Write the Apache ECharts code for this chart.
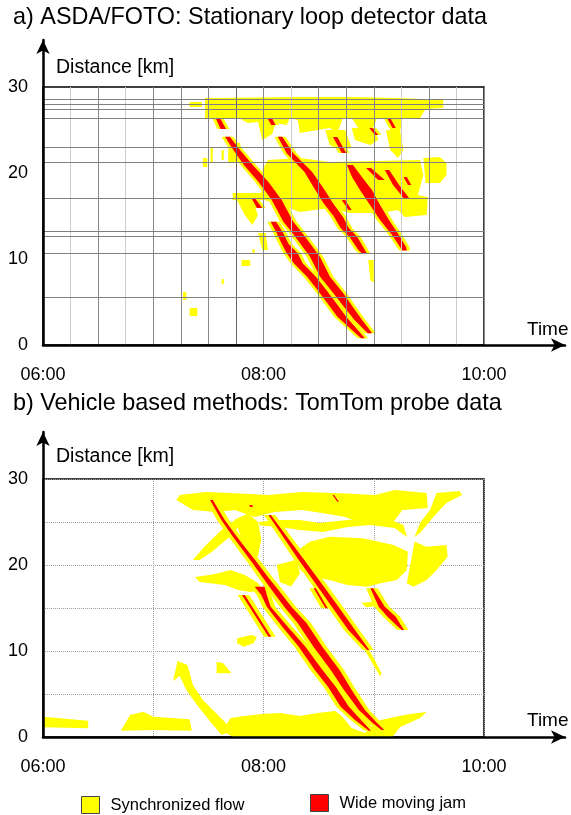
<!DOCTYPE html>
<html>
<head>
<meta charset="utf-8">
<title>Synchronized flow and wide moving jams</title>
<script src="https://cdn.jsdelivr.net/npm/echarts@6/dist/echarts.min.js"></script>
<style>
    html, body { margin: 0; padding: 0; background: #fff; }
    #chart { width: 571px; height: 815px; }
</style>
</head>
<body>
<div id="chart"></div>
<script>
// ---- data: time in hours (6 = 06:00), distance in km ----
var timeLabelHours = [6, 8, 10];
var kmLabels = [0, 10, 20, 30];

// loop detector positions (panel a)
var detectorKm = [28.57, 28.02, 27.4, 26.36, 22.99, 21.24, 17.06, 13.29, 12.71, 10.66, 5.55];

// wide moving jams, rows of [km, jam start, jam end]
var jamsA = [
    [[26.28, 7.57, 7.61], [25.12, 7.61, 7.66]],
    [[24.22, 7.650, 7.695], [22.67, 7.727, 7.787], [20.93, 7.822, 7.902], [18.99, 7.953, 8.043],
     [16.86, 8.075, 8.165], [14.34, 8.180, 8.270], [13.37, 8.241, 8.331], [11.83, 8.331, 8.421],
     [10.27, 8.422, 8.512], [7.94, 8.513, 8.603], [6.01, 8.634, 8.724], [4.45, 8.729, 8.809],
     [2.91, 8.825, 8.895], [1.36, 8.946, 8.986]],
    [[17.09, 7.89, 7.92], [15.93, 7.94, 7.99]],
    [[14.34, 8.065, 8.115], [12.98, 8.12, 8.18], [11.81, 8.165, 8.225], [10.66, 8.21, 8.31],
     [9.50, 8.275, 8.355], [7.94, 8.395, 8.475], [6.40, 8.49, 8.57], [4.85, 8.58, 8.66],
     [3.29, 8.67, 8.75], [2.13, 8.77, 8.83], [0.78, 8.885, 8.92]],
    [[26.28, 8.04, 8.08], [25.58, 8.07, 8.11]],
    [[24.22, 8.13, 8.17], [22.29, 8.21, 8.27], [20.15, 8.37, 8.44], [18.02, 8.47, 8.555],
     [16.48, 8.545, 8.63], [14.92, 8.64, 8.72], [13.57, 8.70, 8.775], [12.59, 8.78, 8.85],
     [11.05, 8.86, 8.92], [10.58, 8.90, 8.94]],
    [[24.19, 8.63, 8.67], [22.33, 8.71, 8.75]],
    [[20.93, 8.757, 8.812], [19.53, 8.803, 8.893], [18.02, 8.875, 8.984], [16.28, 8.966, 9.057],
     [14.53, 9.057, 9.138], [12.79, 9.166, 9.229], [11.40, 9.238, 9.293], [11.0, 9.26, 9.30]],
    [[20.58, 8.93, 8.975], [19.19, 9.04, 9.10]],
    [[20.35, 9.10, 9.14], [18.60, 9.175, 9.23], [17.09, 9.27, 9.32]],
    [[19.53, 9.27, 9.30], [18.60, 9.31, 9.34]],
    [[25.23, 8.96, 8.99], [24.42, 9.01, 9.04]],
    [[26.28, 9.125, 9.155], [25.23, 9.17, 9.20]],
    [[16.86, 8.71, 8.74], [15.70, 8.77, 8.80]]
];

// synchronized flow regions, outlines of [time, km]
var syncA = [
    [[7.47, 28.72], [8.33, 28.84], [8.79, 28.84], [9.24, 28.72], [9.63, 28.49], [9.63, 27.56], [9.47, 27.44],
     [9.42, 26.40], [9.26, 26.40], [9.24, 24.88], [9.15, 24.88], [9.13, 26.40], [9.03, 26.40], [8.99, 25.12],
     [8.86, 25.23], [8.80, 26.40], [8.72, 26.40], [8.67, 24.65], [8.60, 25.23], [8.33, 24.65], [8.31, 26.16],
     [8.24, 26.40], [8.21, 25.58], [8.11, 25.81], [8.08, 24.53], [7.99, 23.84], [7.95, 25.93], [7.86, 25.81],
     [7.79, 26.28], [7.62, 26.28], [7.47, 26.40]],
    [[7.33, 28.26], [7.44, 28.26], [7.44, 27.67], [7.33, 27.67]],
    [[7.45, 21.74], [7.49, 21.74], [7.49, 20.70], [7.45, 20.70]],
    [[7.68, 23.49], [7.79, 23.49], [7.79, 21.28], [7.68, 21.28]],
    [[7.52, 22.91], [7.54, 22.91], [7.54, 21.28], [7.52, 21.28]],
    [[7.62, 22.67], [7.64, 22.67], [7.64, 21.51], [7.62, 21.51]],
    [[8.04, 21.51], [8.33, 21.74], [8.60, 21.28], [9.42, 21.51], [9.45, 19.77], [9.40, 17.44], [9.49, 17.21],
     [9.48, 15.12], [9.28, 14.88], [9.22, 15.70], [9.06, 15.35], [8.79, 15.35], [8.60, 15.93], [8.33, 15.47],
     [8.15, 16.28], [8.01, 16.86], [7.72, 16.86], [7.72, 17.67], [7.97, 17.67], [8.04, 18.60], [7.99, 20.35]],
    [[9.45, 21.74], [9.60, 21.86], [9.66, 21.16], [9.66, 19.77], [9.60, 18.84], [9.47, 18.84]],
    [[8.56, 25.0], [8.74, 25.0], [8.80, 22.91], [8.69, 22.67], [8.60, 23.26]],
    [[9.11, 25.0], [9.24, 24.88], [9.27, 22.67], [9.22, 21.74], [9.15, 22.67]],
    [[8.80, 25.23], [9.01, 25.23], [9.04, 23.84], [8.97, 23.26], [8.83, 23.84]],
    [[7.76, 16.86], [7.90, 16.86], [7.95, 15.12], [7.90, 13.95], [7.83, 15.12]],
    [[7.95, 13.02], [8.02, 13.02], [8.04, 11.05], [7.99, 11.05]],
    [[7.90, 11.16], [7.92, 11.16], [7.92, 10.70], [7.90, 10.70]],
    [[7.80, 9.88], [7.88, 9.88], [7.88, 9.19], [7.80, 9.19]],
    [[7.62, 7.67], [7.64, 7.67], [7.64, 7.09], [7.62, 7.09]],
    [[7.27, 6.16], [7.30, 6.16], [7.30, 5.23], [7.27, 5.23]],
    [[7.33, 4.30], [7.40, 4.30], [7.40, 3.37], [7.33, 3.37]],
    [[8.95, 9.88], [9.00, 9.88], [9.00, 7.21], [8.97, 7.56]]
];

var jamsB = [
    [[27.56, 7.515, 7.54], [25.23, 7.618, 7.648], [23.26, 7.724, 7.76], [21.74, 7.812, 7.852],
     [20.23, 7.90, 7.945], [18.60, 7.99, 8.04], [17.09, 8.075, 8.135], [15.12, 8.19, 8.255],
     [13.26, 8.31, 8.39], [10.47, 8.455, 8.535], [7.79, 8.61, 8.69], [5.47, 8.73, 8.80],
     [3.14, 8.865, 8.92], [1.63, 8.99, 9.03], [0.81, 9.07, 9.095]],
    [[17.48, 7.92, 8.01], [16.5, 7.98, 8.03], [15.15, 8.03, 8.065], [12.83, 8.17, 8.22],
     [10.50, 8.32, 8.38], [7.79, 8.465, 8.535], [5.85, 8.585, 8.655], [3.52, 8.70, 8.775],
     [1.98, 8.83, 8.885], [0.73, 8.955, 8.975]],
    [[25.81, 8.045, 8.067], [23.29, 8.178, 8.212], [20.58, 8.32, 8.37], [17.87, 8.47, 8.525],
     [15.15, 8.62, 8.68], [12.44, 8.77, 8.83], [10.12, 8.94, 8.96]],
    [[16.51, 7.805, 7.83], [11.66, 8.045, 8.07]],
    [[17.29, 8.455, 8.475], [14.97, 8.563, 8.583]],
    [[17.29, 8.97, 8.995], [15.15, 9.045, 9.10], [13.99, 9.125, 9.20], [12.83, 9.22, 9.255], [12.44, 9.255, 9.275]],
    [[28.14, 8.625, 8.64], [27.36, 8.67, 8.685]],
    [[26.98, 7.87, 7.895], [26.74, 7.88, 7.905]]
];

var syncB = [
    [[6.0, 2.36], [6.41, 1.90], [6.41, 1.01], [6.0, 1.13]],
    [[6.71, 0.81], [6.79, 2.56], [6.91, 2.94], [7.00, 2.36], [7.33, 2.06], [7.35, 0.73], [7.00, 0.81], [6.71, 0.73]],
    [[7.18, 6.51], [7.22, 8.84], [7.31, 8.37], [7.36, 6.05], [7.45, 4.30], [7.56, 2.91], [7.65, 1.74], [7.71, 0.70],
     [7.62, 0.23], [7.52, 1.74], [7.39, 3.84], [7.30, 5.47], [7.24, 7.09]],
    [[7.63, 0.70], [7.70, 2.21], [7.83, 2.44], [7.99, 2.67], [8.15, 2.79], [8.33, 2.44], [8.49, 2.79], [8.65, 3.02],
     [8.71, 2.44], [8.80, 1.05], [8.92, 0.47], [9.06, 1.98], [9.19, 2.33], [9.33, 2.67], [9.48, 2.91], [9.42, 2.21],
     [9.24, 1.16], [9.17, 0], [7.72, 0]],
    [[7.38, 18.60], [7.56, 18.95], [7.70, 19.42], [7.83, 18.84], [7.95, 17.91], [7.99, 17.09], [7.88, 16.86],
     [7.77, 17.09], [7.65, 17.67], [7.42, 18.02]],
    [[7.36, 20.58], [7.47, 22.21], [7.62, 24.07], [7.74, 25.23], [7.79, 24.65], [7.68, 23.14], [7.53, 21.51], [7.42, 20.58]],
    [[7.74, 25.3], [7.86, 26.0], [7.95, 25.0], [7.98, 23.0], [7.95, 21.0], [7.88, 20.3], [7.83, 22.0]],
    [[7.21, 27.56], [7.24, 28.14], [7.48, 28.49], [7.70, 28.37], [8.04, 28.14], [8.35, 28.49], [8.65, 28.37],
     [9.01, 28.14], [9.19, 28.72], [9.48, 28.37], [9.49, 26.63], [9.26, 26.40], [9.17, 24.88], [8.98, 25.0],
     [8.89, 24.88], [8.74, 25.58], [8.53, 26.05], [8.35, 26.40], [8.10, 26.16], [7.92, 25.58], [7.74, 26.40],
     [7.57, 26.16], [7.36, 26.40]],
    [[9.57, 28.37], [9.78, 28.60], [9.80, 28.14], [9.66, 27.21], [9.54, 25.58], [9.42, 23.72], [9.37, 23.26],
     [9.42, 24.88], [9.51, 26.40]],
    [[7.95, 25.0], [8.15, 25.23], [8.33, 25.23], [8.51, 24.88], [8.76, 25.23], [8.97, 25.47], [9.15, 25.23],
     [9.27, 24.65], [9.30, 23.26], [9.19, 24.30], [8.97, 24.65], [8.76, 24.42], [8.54, 23.84], [8.33, 24.07],
     [8.15, 24.42], [7.97, 24.6]],
    [[8.29, 21.5], [8.42, 22.71], [8.60, 23.29], [8.90, 23.10], [9.18, 22.33], [9.31, 21.55], [9.30, 19.42],
     [9.21, 18.26], [9.06, 17.87], [8.94, 17.48], [8.76, 17.67], [8.60, 18.26], [8.45, 18.64], [8.33, 19.42]],
    [[9.37, 22.71], [9.48, 22.13], [9.66, 22.33], [9.67, 20.97], [9.57, 19.42], [9.48, 18.26], [9.36, 17.48], [9.30, 17.87]],
    [[8.12, 20.0], [8.30, 20.6], [8.33, 19.0], [8.25, 17.5], [8.15, 18.0]],
    [[8.89, 15.58], [9.10, 15.93], [9.10, 15.35], [8.93, 15.1]],
    [[8.92, 10.9], [9.01, 8.95], [9.07, 7.4], [9.06, 7.0], [8.97, 8.95], [8.91, 10.3]],
    [[7.76, 11.48], [7.89, 11.86], [7.94, 11.67], [7.91, 10.89], [7.82, 10.5], [7.76, 10.89]],
    [[7.575, 8.76], [7.635, 8.57], [7.71, 7.4], [7.575, 7.4]]
];

// ---- chart ----
var fontFamily = 'Liberation Sans, Arial, sans-serif';
var YELLOW = '#ffff00';
var RED = '#ff0000';
var chart = echarts.init(document.getElementById('chart'));

// jam rows -> outline; pad widens the jam in time (used for the yellow rim)
function band(rows, pad) {
    var left = rows.map(function (r) { return [r[1] - pad, r[0]]; });
    var right = rows.slice().reverse().map(function (r) { return [r[2] + pad, r[0]]; });
    return left.concat(right);
}

function areaSeries(name, axisIndex, shapes, color) {
    return {
        type: 'custom',
        name: name,
        xAxisIndex: axisIndex,
        yAxisIndex: axisIndex,
        clip: true,
        silent: true,
        itemStyle: { color: color },
        data: shapes.map(function (s, i) { return i; }),
        renderItem: function (params, api) {
            var pts = shapes[params.dataIndex].map(function (p) { return api.coord(p); });
            return { type: 'polygon', shape: { points: pts }, style: { fill: color } };
        }
    };
}

function hourLabel(v) {
    if (timeLabelHours.indexOf(v) < 0) return '';
    return (v < 10 ? '0' : '') + v + ':00';
}
function kmLabel(v) {
    return kmLabels.indexOf(v) < 0 ? '' : String(v);
}

var labelStyle = { fontSize: 18, color: '#000', fontFamily: fontFamily };

function plotX(grid, interval, splitLine, z) {
    return {
        gridIndex: grid, type: 'value', min: 6, max: 10, interval: interval, z: z,
        axisLine: { show: false }, axisTick: { show: false },
        axisLabel: Object.assign({ margin: 21, formatter: hourLabel, showMinLabel: true, showMaxLabel: true }, labelStyle),
        splitLine: splitLine
    };
}
function plotY(grid, interval, splitLine) {
    return {
        gridIndex: grid, type: 'value', min: 0, max: 30, interval: interval,
        axisLine: { show: false }, axisTick: { show: false },
        axisLabel: Object.assign({ margin: 15, formatter: kmLabel, showMinLabel: true, showMaxLabel: true }, labelStyle),
        splitLine: splitLine
    };
}
function arrowAxis(grid) {
    return {
        gridIndex: grid, type: 'value', min: 0, max: 1, z: 4,
        axisLine: {
            show: true, onZero: false, symbol: ['none', 'arrow'], symbolSize: [10, 14],
            lineStyle: { color: '#000', width: 2.5 }
        },
        axisTick: { show: false }, axisLabel: { show: false }, splitLine: { show: false }
    };
}

var quarterColors = ['#888', '#ccc', '#888', '#ccc', '#888', '#888', '#888', '#666', '#888',
                     '#ccc', '#888', '#888', '#888', '#ccc', '#888', '#ccc', '#888'];
var dotted = { show: true, lineStyle: { color: '#a0a0a0', width: 1, type: [1, 1] } };

function textItem(text, left, top, size) {
    return {
        text: text, left: left, top: top, padding: 0,
        textStyle: { fontSize: size, fontWeight: 'normal', color: '#000', fontFamily: fontFamily }
    };
}

var option = {
    animation: false,
    backgroundColor: '#fff',
    textStyle: { fontFamily: fontFamily },
    title: [
        textItem('a) ASDA/FOTO: Stationary loop detector data', 13, 6, 23.4),
        textItem('Distance [km]', 56, 58, 19.5),
        textItem('Time', 527, 320, 19),
        textItem('b) Vehicle based methods: TomTom probe data', 13, 392, 23.4),
        textItem('Distance [km]', 56, 447, 19.5),
        textItem('Time', 527, 711, 19)
    ],
    legend: [
        {
            left: 76, top: 791, icon: 'rect', itemWidth: 18, itemHeight: 17,
            data: ['Synchronized flow'], selectedMode: false,
            itemStyle: { borderColor: '#444', borderWidth: 1 },
            textStyle: { fontSize: 16.5, color: '#000', fontFamily: fontFamily, padding: [0, 0, 0, 6] }
        },
        {
            left: 305, top: 789, icon: 'rect', itemWidth: 18, itemHeight: 17,
            data: ['Wide moving jam'], selectedMode: false,
            itemStyle: { borderColor: '#444', borderWidth: 1 },
            textStyle: { fontSize: 16.5, color: '#000', fontFamily: fontFamily, padding: [0, 0, 0, 6] }
        }
    ],
    grid: [
        { left: 43, top: 87, width: 441, height: 258, show: true, borderColor: '#000', borderWidth: 1.5 },
        { left: 43, top: 40, width: 522, height: 305 },
        { left: 43, top: 479, width: 441, height: 258, show: true, borderColor: '#000', borderWidth: 1.5 },
        { left: 43, top: 432, width: 522, height: 305 }
    ],
    xAxis: [
        plotX(0, 0.25, { show: true, lineStyle: { color: quarterColors, width: 1 } }, 3),
        arrowAxis(1),
        plotX(2, 1, dotted, 0),
        arrowAxis(3)
    ],
    yAxis: [
        plotY(0, 10, { show: false }),
        arrowAxis(1),
        plotY(2, 5, dotted),
        arrowAxis(3)
    ],
    series: [
        areaSeries('Synchronized flow', 0, syncA, YELLOW),
        areaSeries('Synchronized flow', 0, jamsA.map(function (j) { return band(j, 0.03); }), YELLOW),
        areaSeries('Wide moving jam', 0, jamsA.map(function (j) { return band(j, 0); }), RED),
        {
            type: 'custom', name: 'detectors', xAxisIndex: 0, yAxisIndex: 0, z: 4, silent: true,
            data: detectorKm.map(function (k, i) { return i; }),
            renderItem: function (params, api) {
                var km = detectorKm[params.dataIndex];
                var a = api.coord([6, km]), b = api.coord([10, km]);
                var y = Math.round(a[1]) + 0.5;
                return { type: 'line', shape: { x1: a[0], y1: y, x2: b[0], y2: y }, style: { stroke: '#808080', lineWidth: 1 } };
            }
        },
        areaSeries('Synchronized flow', 2, syncB, YELLOW),
        areaSeries('Synchronized flow', 2, jamsB.map(function (j) { return band(j, 0.04); }), YELLOW),
        areaSeries('Wide moving jam', 2, jamsB.map(function (j) { return band(j, 0); }), RED)
    ]
};

chart.setOption(option);
</script>
</body>
</html>
